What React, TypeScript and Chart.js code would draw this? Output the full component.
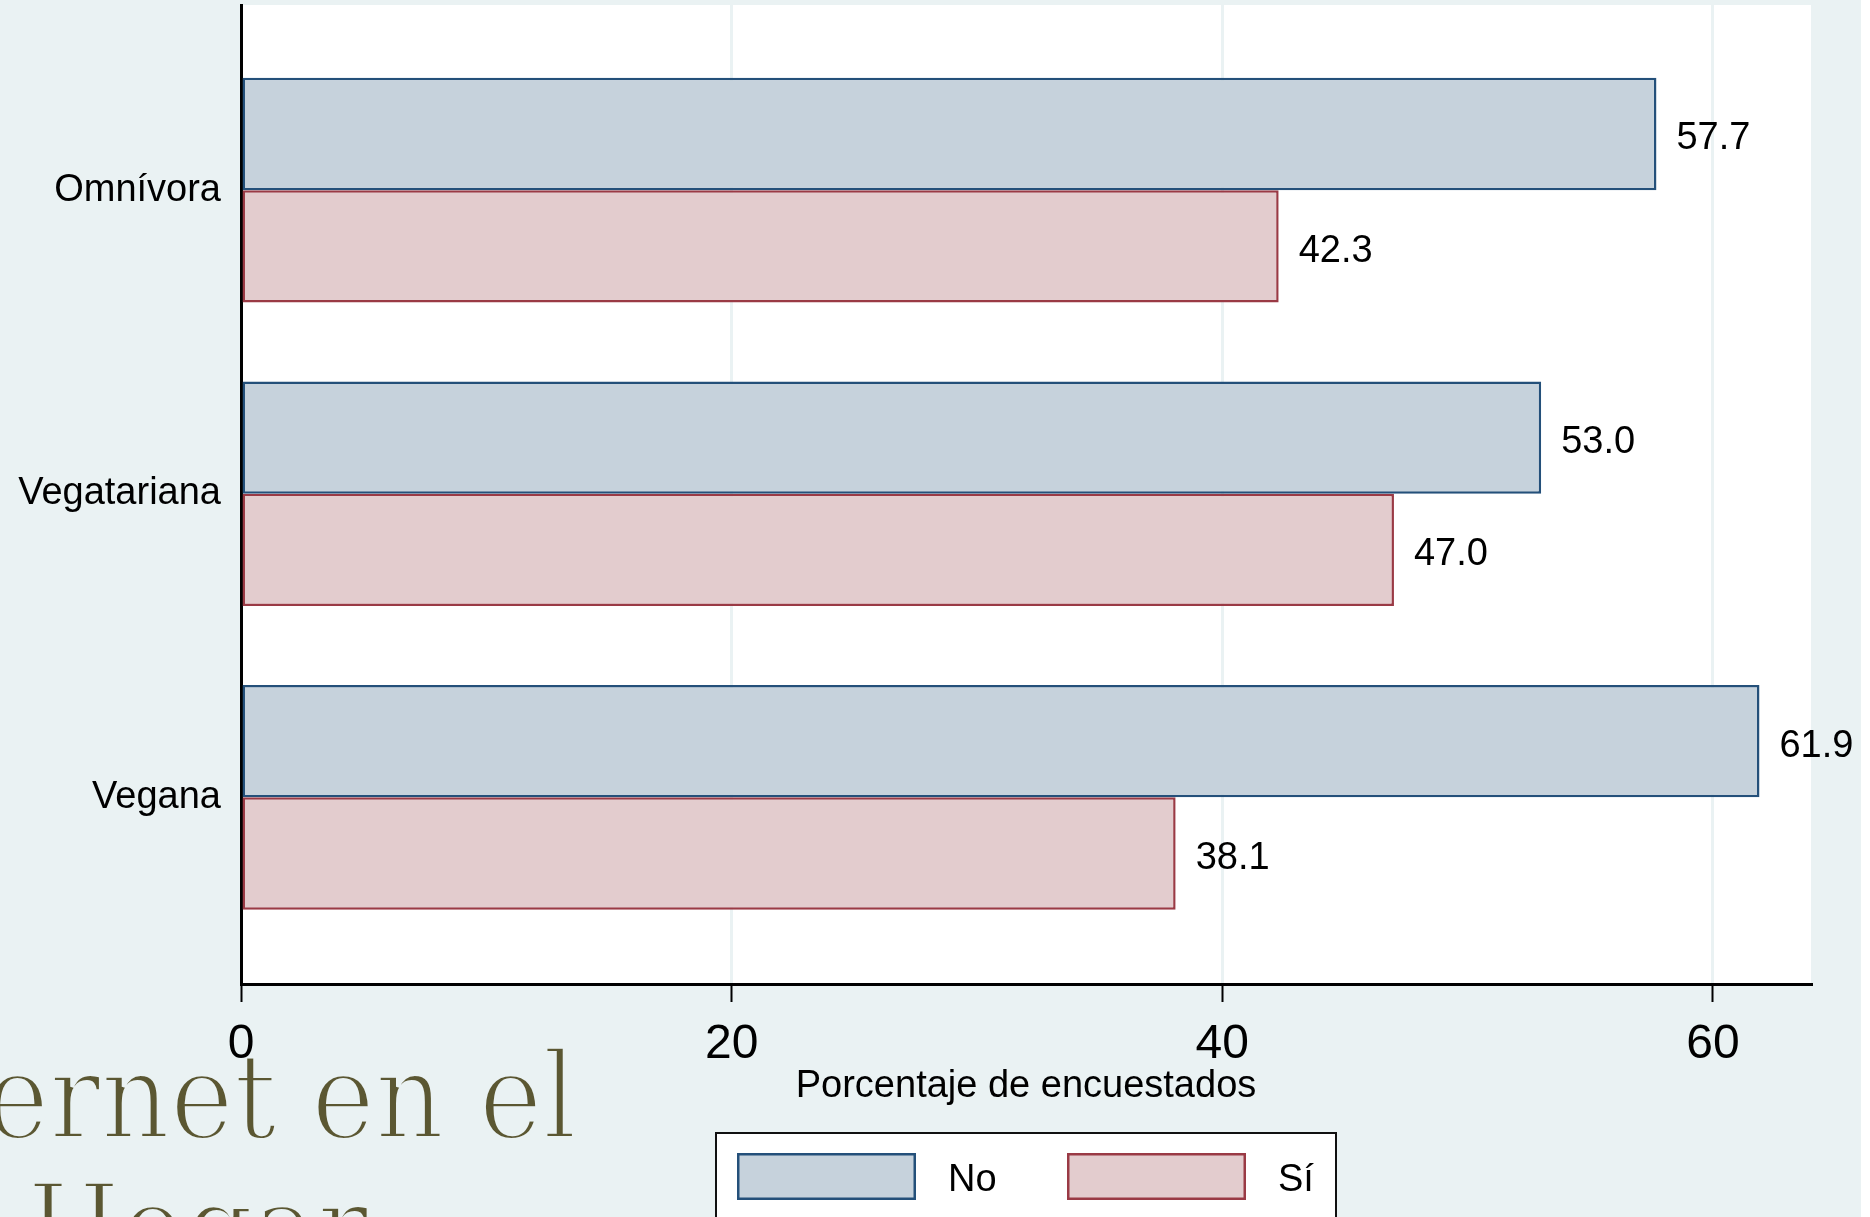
import React, { useEffect, useRef } from 'react';
import { Chart, registerables } from 'chart.js';

Chart.register(...registerables);

const categories = ['Omnívora', 'Vegatariana', 'Vegana'];
const seriesLabels = ['No', 'Sí'];
const noValues = [57.7, 53.0, 61.9];
const siValues = [42.3, 47.0, 38.1];
const xTickValues = [0, 20, 40, 60];
const xAxisTitle = 'Porcentaje de encuestados';
const pageTitleLine1 = 'Internet en el';
const pageTitleLine2 = 'Hogar';

const BG = '#eaf2f3';
const FONT = "'Liberation Sans', Arial, Helvetica, sans-serif";
const W = 1861;
const H = 1217;

const plotBg = {
  id: 'plotBg',
  beforeDraw(chart: any) {
    const { ctx, chartArea: a } = chart;
    ctx.save();
    ctx.fillStyle = '#ffffff';
    ctx.fillRect(a.left, a.top, a.right - a.left, a.bottom - a.top);
    ctx.restore();
  },
};

const valueLabels = {
  id: 'valueLabels',
  afterDatasetsDraw(chart: any) {
    const { ctx } = chart;
    ctx.save();
    ctx.font = `38px ${FONT}`;
    ctx.fillStyle = '#000000';
    ctx.textBaseline = 'middle';
    ctx.textAlign = 'left';
    chart.data.datasets.forEach((ds: any, di: number) => {
      const meta = chart.getDatasetMeta(di);
      meta.data.forEach((el: any, i: number) => {
        const v = ds.data[i].x;
        ctx.fillText(v.toFixed(1), el.x + 20, el.y + 5);
      });
    });
    ctx.restore();
  },
};

const legendBox = {
  id: 'legendBox',
  afterDraw(chart: any) {
    const { ctx, chartArea: a } = chart;
    const cx = (a.left + a.right) / 2;
    const boxW = 620;
    const boxL = cx - boxW / 2;
    const boxT = a.bottom + 149;
    ctx.save();
    ctx.fillStyle = '#ffffff';
    ctx.fillRect(boxL, boxT, boxW, 140);
    ctx.strokeStyle = '#111111';
    ctx.lineWidth = 2;
    ctx.strokeRect(boxL, boxT, boxW, 140);
    ctx.font = `38px ${FONT}`;
    ctx.textBaseline = 'middle';
    ctx.textAlign = 'left';
    chart.data.datasets.forEach((ds: any, i: number) => {
      const sx = boxL + 21 + i * 330;
      const sy = boxT + 20;
      const sw = 179;
      const sh = 47;
      ctx.fillStyle = ds.backgroundColor;
      ctx.fillRect(sx, sy, sw, sh);
      ctx.strokeStyle = ds.borderColor;
      ctx.lineWidth = 2.5;
      ctx.strokeRect(sx + 1.25, sy + 1.25, sw - 2.5, sh - 2.5);
      ctx.fillStyle = '#000000';
      ctx.fillText(ds.label, sx + sw + 32, sy + sh / 2 + 4);
    });
    ctx.restore();
  },
};

export default function App() {
  const ref = useRef<HTMLCanvasElement | null>(null);

  useEffect(() => {
    if (!ref.current) return;
    const chart = new Chart(ref.current, {
      type: 'bar',
      data: {
        datasets: [
          {
            label: seriesLabels[0],
            data: noValues.map((v, i) => ({ x: v, y: i })),
            backgroundColor: '#c6d2dc',
            borderColor: '#24507a',
            borderWidth: 2.5,
            borderSkipped: false,
          },
          {
            label: seriesLabels[1],
            data: siValues.map((v, i) => ({ x: v, y: i })),
            backgroundColor: '#e3ccce',
            borderColor: '#9a3a45',
            borderWidth: 2.5,
            borderSkipped: false,
          },
        ],
      } as any,
      options: {
        indexAxis: 'y',
        responsive: false,
        maintainAspectRatio: false,
        animation: false,
        categoryPercentage: 0.74,
        barPercentage: 1,
        layout: { padding: { top: 5, right: 50, bottom: 111, left: 0 } },
        plugins: {
          legend: { display: false },
          tooltip: { enabled: false },
        },
        scales: {
          x: {
            type: 'linear',
            position: 'bottom',
            min: 0,
            max: 64,
            offset: false,
            afterBuildTicks: (s: any) => {
              s.ticks = xTickValues.map((v) => ({ value: v }));
            },
            afterFit: (s: any) => {
              s.height = 122;
              s.paddingLeft = 0;
              s.paddingRight = 0;
            },
            ticks: {
              color: '#000000',
              font: { family: FONT, size: 48, lineHeight: 1.2 },
              padding: 14,
              maxRotation: 0,
              autoSkip: false,
            },
            grid: {
              color: (c: any) => (c.tick && c.tick.value === 0 ? 'rgba(0,0,0,0)' : BG),
              lineWidth: 3,
              drawTicks: true,
              tickLength: 18,
              tickColor: '#000000',
              tickWidth: 2,
            },
            border: { display: true, color: '#000000', width: 3 },
            title: {
              display: true,
              text: xAxisTitle,
              color: '#000000',
              font: { family: FONT, size: 38, lineHeight: 1 },
              padding: { top: 0, bottom: 0 },
            },
          },
          y: {
            type: 'linear',
            reverse: true,
            offset: false,
            min: -0.61,
            max: 2.615,
            afterBuildTicks: (s: any) => {
              s.ticks = categories.map((_, i) => ({ value: i }));
            },
            afterFit: (s: any) => {
              s.width = 241;
              s.paddingTop = 0;
              s.paddingBottom = 0;
            },
            ticks: {
              color: '#000000',
              font: { family: FONT, size: 38, lineHeight: 1.2 },
              padding: 20,
              autoSkip: false,
              callback: (v: any) => categories[Math.round(Number(v))],
            },
            grid: { display: false, drawTicks: false, offset: false },
            border: { display: true, color: '#000000', width: 3 },
          },
        },
      } as any,
      plugins: [plotBg, valueLabels, legendBox],
    });
    return () => chart.destroy();
  }, []);

  const titleStyle: React.CSSProperties = {
    position: 'absolute',
    fontFamily: "'DejaVu Serif', serif",
    fontSize: '119px',
    lineHeight: '119px',
    color: '#5b5732',
    whiteSpace: 'nowrap',
    WebkitTextStroke: `4px ${BG}`,
  } as any;

  return (
    <div
      style={{
        position: 'absolute',
        left: 0,
        top: 0,
        width: W,
        height: H,
        background: BG,
        overflow: 'hidden',
      }}
    >
      <div
        style={{
          ...titleStyle,
          right: 1284,
          top: 1038,
          textAlign: 'right',
          transform: 'scaleX(0.905)',
          transformOrigin: 'right top',
        }}
      >
        {pageTitleLine1}
      </div>
      <div
        style={{
          ...titleStyle,
          left: 27,
          top: 1169,
          transform: 'scaleX(0.9)',
          transformOrigin: 'left top',
        }}
      >
        {pageTitleLine2}
      </div>
      <canvas
        ref={ref}
        width={W}
        height={H}
        style={{ position: 'absolute', left: 0, top: 0, width: W, height: H, display: 'block' }}
      />
    </div>
  );
}
